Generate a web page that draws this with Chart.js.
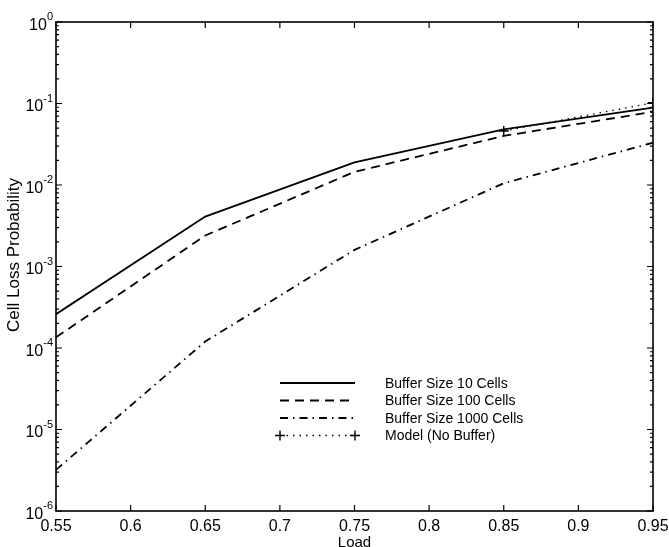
<!DOCTYPE html>
<html>
<head>
<meta charset="utf-8">
<script src="https://cdn.jsdelivr.net/npm/chart.js@4.4.0/dist/chart.umd.min.js"></script>
<style>
html, body { margin: 0; padding: 0; background: #fff; }
</style>
</head>
<body>
<canvas id="c" width="669" height="547"></canvas>
<script>
// load values and cell loss probabilities per buffer size
const loads = [0.55, 0.65, 0.75, 0.85, 0.95];
const buffer10 = [2.6e-4, 4.1e-3, 1.9e-2, 4.8e-2, 8.9e-2];
const buffer100 = [1.35e-4, 2.4e-3, 1.45e-2, 4.0e-2, 7.9e-2];
const buffer1000 = [3.2e-6, 1.2e-4, 1.6e-3, 1.05e-2, 3.3e-2];
const modelLoads = [0.85, 0.95];
const modelNoBuffer = [4.6e-2, 1.02e-1];

const seriesNames = ['Buffer Size 10 Cells', 'Buffer Size 100 Cells', 'Buffer Size 1000 Cells', 'Model (No Buffer)'];
const xTickLabels = ['0.55', '0.6', '0.65', '0.7', '0.75', '0.8', '0.85', '0.9', '0.95'];
const yExponents = [-6, -5, -4, -3, -2, -1, 0];

const FONT = '"Liberation Sans", Arial, Helvetica, sans-serif';

function pts(xs, ys) {
  return xs.map((v, i) => ({x: v, y: ys[i]}));
}

function line(label, xs, ys, dash) {
  return {
    label: label,
    data: pts(xs, ys),
    borderColor: '#000',
    backgroundColor: '#000',
    borderWidth: 1.8,
    borderDash: dash,
    pointRadius: 0,
    fill: false,
    tension: 0
  };
}

const datasets = [
  line(seriesNames[0], loads, buffer10, []),
  line(seriesNames[1], loads, buffer100, [9, 6]),
  line(seriesNames[2], loads, buffer1000, [8, 5, 1.5, 5]),
  Object.assign(line(seriesNames[3], modelLoads, modelNoBuffer, [1.5, 5]), {
    borderWidth: 1.3,
    pointStyle: 'cross',
    pointRadius: 5,
    pointBorderWidth: 1.4
  })
];

// box, inward ticks, labels, titles and the in-plot legend
const frame = {
  id: 'frame',
  afterDatasetsDraw(chart) {
    const ctx = chart.ctx;
    const a = chart.chartArea;
    const x = chart.scales.x, y = chart.scales.y;
    ctx.save();
    ctx.setLineDash([]);
    ctx.strokeStyle = '#000';
    ctx.fillStyle = '#000';
    ctx.lineWidth = 1.6;
    ctx.strokeRect(a.left, a.top, a.right - a.left, a.bottom - a.top);

    ctx.beginPath();
    xTickLabels.forEach(t => {
      const px = x.getPixelForValue(Number(t));
      ctx.moveTo(px, a.bottom); ctx.lineTo(px, a.bottom - 6);
      ctx.moveTo(px, a.top); ctx.lineTo(px, a.top + 6);
    });
    yExponents.forEach(e => {
      const py = y.getPixelForValue(Math.pow(10, e));
      ctx.moveTo(a.left, py); ctx.lineTo(a.left + 6, py);
      ctx.moveTo(a.right, py); ctx.lineTo(a.right - 6, py);
      if (e < 0) {
        for (let k = 2; k <= 9; k++) {
          const pm = y.getPixelForValue(k * Math.pow(10, e));
          ctx.moveTo(a.left, pm); ctx.lineTo(a.left + 3, pm);
          ctx.moveTo(a.right, pm); ctx.lineTo(a.right - 3, pm);
        }
      }
    });
    ctx.lineWidth = 1.2;
    ctx.stroke();

    // x tick labels
    ctx.font = '16px ' + FONT;
    ctx.textAlign = 'center';
    ctx.textBaseline = 'alphabetic';
    xTickLabels.forEach(t => {
      ctx.fillText(t, x.getPixelForValue(Number(t)), 531);
    });

    // y tick labels as 10 with a raised exponent
    yExponents.forEach(e => {
      const py = y.getPixelForValue(Math.pow(10, e));
      const exp = e < 0 ? '-' + (-e) : String(e);
      ctx.font = '11px ' + FONT;
      const we = ctx.measureText(exp).width;
      ctx.font = '16px ' + FONT;
      const wb = ctx.measureText('10').width;
      const right = a.left - 3;
      ctx.textAlign = 'left';
      ctx.fillText('10', right - we - wb, py + 7.5);
      ctx.font = '11px ' + FONT;
      ctx.fillText(exp, right - we, py - 2);
    });

    // axis titles
    ctx.font = '15px ' + FONT;
    ctx.textAlign = 'center';
    ctx.fillText('Load', (a.left + a.right) / 2, 547);
    ctx.save();
    ctx.translate(14, 255);
    ctx.rotate(-Math.PI / 2);
    ctx.font = '17px ' + FONT;
    ctx.textBaseline = 'middle';
    ctx.fillText('Cell Loss Probability', 0, 0);
    ctx.restore();

    // legend
    ctx.font = '14px ' + FONT;
    ctx.textAlign = 'left';
    ctx.textBaseline = 'middle';
    chart.data.datasets.forEach((ds, i) => {
      const ly = 383 + i * 17.5;
      ctx.setLineDash(ds.borderDash || []);
      ctx.lineWidth = ds.borderWidth;
      ctx.beginPath();
      ctx.moveTo(280, ly); ctx.lineTo(355, ly);
      ctx.stroke();
      ctx.setLineDash([]);
      if (ds.pointStyle === 'cross') {
        ctx.lineWidth = ds.pointBorderWidth;
        ctx.beginPath();
        [280, 355].forEach(cx => {
          ctx.moveTo(cx - 5, ly); ctx.lineTo(cx + 5, ly);
          ctx.moveTo(cx, ly - 5); ctx.lineTo(cx, ly + 5);
        });
        ctx.stroke();
      }
      ctx.fillText(ds.label, 385, ly + 1);
    });
    ctx.restore();
  }
};

new Chart(document.getElementById('c'), {
  type: 'line',
  data: {datasets: datasets},
  options: {
    responsive: false,
    animation: false,
    devicePixelRatio: 1,
    layout: {padding: {left: 56, right: 16, top: 22, bottom: 36}},
    plugins: {legend: {display: false}, tooltip: {enabled: false}},
    scales: {
      x: {
        type: 'linear',
        min: 0.55,
        max: 0.95,
        grid: {display: false, drawTicks: false},
        border: {display: false},
        ticks: {display: false}
      },
      y: {
        type: 'logarithmic',
        min: 1e-6,
        max: 1,
        grid: {display: false, drawTicks: false},
        border: {display: false},
        ticks: {display: false}
      }
    }
  },
  plugins: [frame]
});
</script>
</body>
</html>
